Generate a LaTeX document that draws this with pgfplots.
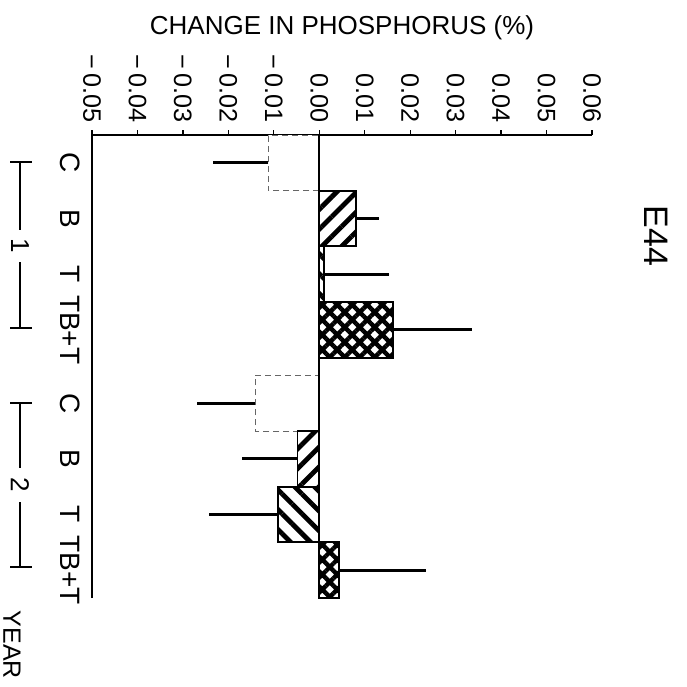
\documentclass[border=0pt]{standalone}
\usepackage{fontspec}
\setmainfont{Liberation Sans}
\usepackage{pgfplots}
\usepackage{pgfplotstable}
\pgfplotsset{compat=1.18}
\usetikzlibrary{patterns.meta}

% x = change, y = bar position (year 1 at 0..-3, year 2 at -4.32..-7.32)
\pgfplotstableread{
x y ep em
-0.0112 0 0 0.0121
-0.0141 -4.32 0 0.0127
}\ctrl
\pgfplotstableread{
x y ep em
0.0081 -1 0.0051 0
-0.0048 -5.32 0 0.0121
}\burn
\pgfplotstableread{
x y ep em
0.0011 -2 0.0143 0
-0.0090 -6.32 0 0.0152
}\till
\pgfplotstableread{
x y ep em
0.0163 -3 0.0173 0
0.0044 -7.32 0.0191 0
}\both

\pgfplotsset{errline/.style={error bars/error bar style={solid, line width=1.5pt, black}}}

\begin{document}
\begin{tikzpicture}
\path[use as bounding box] (0,0) rectangle (343.5pt,-343.5pt);
\begin{axis}[
  at={(46pt,-67.5pt)}, anchor=north west,
  scale only axis, width=250pt, height=231.5pt,
  xbar, bar width=1, bar shift=0pt,
  xmin=-0.05, xmax=0.06, ymin=-7.82, ymax=0.5,
  axis x line*=top, axis y line*=left,
  axis line style={line width=0.8pt},
  scaled x ticks=false,
  xtick={-0.05,-0.04,-0.03,-0.02,-0.01,0,0.01,0.02,0.03,0.04,0.05,0.06},
  xticklabels={−\,0.05,−\,0.04,−\,0.03,−\,0.02,−\,0.01,0.00,0.01,0.02,0.03,0.04,0.05,0.06},
  xticklabel style={rotate=-90, anchor=east, font=\fontsize{12.6}{14}\selectfont},
  tick align=outside, major tick length=2.5pt,
  x tick style={line width=0.6pt, black},
  ytick={0,-1,-2,-3,-4.32,-5.32,-6.32,-7.32},
  yticklabels={C,B,T,TB+T,C,B,T,TB+T},
  y tick style={draw=none},
  yticklabel style={rotate=-90, anchor=north, font=\fontsize{14}{16}\selectfont},
  error bars/x dir=both, error bars/x explicit,
  error bars/error mark=none,
]
\addplot[draw=black!60, densely dashed, line width=0.5pt, fill=white, errline]
  table[x=x, y=y, x error plus=ep, x error minus=em] {\ctrl};
\addplot[draw=black, line width=0.9pt, errline,
  pattern={Lines[angle=45,distance=7pt,line width=2.4pt]}]
  table[x=x, y=y, x error plus=ep, x error minus=em] {\burn};
\addplot[draw=black, line width=0.9pt, errline,
  pattern={Lines[angle=-45,distance=7pt,line width=2.4pt]}]
  table[x=x, y=y, x error plus=ep, x error minus=em] {\till};
\addplot[draw=black, line width=0.9pt, errline,
  pattern={Hatch[angle=45,distance=5.3pt,line width=2.2pt]}]
  table[x=x, y=y, x error plus=ep, x error minus=em] {\both};
\draw[line width=0.8pt] (axis cs:0,0.5) -- (axis cs:0,-7.82);
\end{axis}
\begin{scope}[x=0.5pt, y=-0.5pt, line width=0.6pt]
  \node[font=\fontsize{13}{15}\selectfont] at (342,28) {CHANGE IN PHOSPHORUS (\%)};
  \node[rotate=-90, font=\fontsize{17}{19}\selectfont] at (656,236) {E44};
  % year brackets
  \draw (20,162) -- (20,230) (20,262) -- (20,328) (10,162) -- (32,162) (10,328) -- (32,328);
  \node[rotate=-90, font=\fontsize{13}{15}\selectfont] at (20,246) {1};
  \draw (20,403) -- (20,468) (20,502) -- (20,567) (10,403) -- (32,403) (10,567) -- (32,567);
  \node[rotate=-90, font=\fontsize{13}{15}\selectfont] at (20,485) {2};
  \node[rotate=-90, font=\fontsize{12.5}{14}\selectfont] at (12,645) {YEAR};
\end{scope}
\end{tikzpicture}
\end{document}
